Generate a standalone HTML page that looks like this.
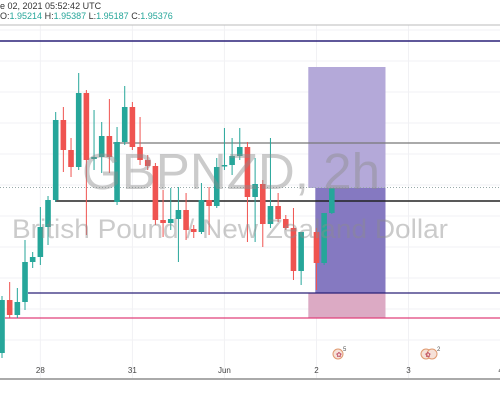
<!DOCTYPE html>
<html><head><meta charset="utf-8"><style>
body{margin:0;background:#fff;width:500px;height:400px;overflow:hidden;font-family:"Liberation Sans",sans-serif}
svg{display:block}
</style></head><body>
<svg id="chart" width="500" height="400">
<g id="grid"></g>
<text x="0" y="9" font-size="9" fill="#333">e 02, 2021 05:52:42 UTC</text>
<text x="0" y="19" font-size="9" fill="#333">O:<tspan fill="#26a69a">1.95214</tspan> H:<tspan fill="#26a69a">1.95387</tspan> L:<tspan fill="#26a69a">1.95187</tspan> C:<tspan fill="#26a69a">1.95376</tspan></text>
<line x1="0" y1="25" x2="500" y2="25" stroke="#bbb" stroke-width="1"/>
<g id="boxes"></g>
<g id="lines"></g>
<g id="candles"></g>
<text x="82" y="189" font-size="51" fill="rgba(140,140,140,0.45)" textLength="298" lengthAdjust="spacingAndGlyphs">GBPNZD, 2h</text>
<text x="12" y="238" font-size="27" fill="rgba(140,140,140,0.45)" textLength="436" lengthAdjust="spacingAndGlyphs">British Pound / New Zealand Dollar</text>
<g id="xaxis"></g>
<g><circle cx="338" cy="354" r="5" fill="#f6e1d8" stroke="#e09a70"/><text x="336" y="357" font-size="7" fill="#c0506a">✿</text><text x="343" y="351" font-size="6" fill="#555">5</text></g>
<g><circle cx="426" cy="354" r="5" fill="#f6e1d8" stroke="#e09a70"/><circle cx="432" cy="354" r="5" fill="#f6e1d8" stroke="#e09a70"/><text x="425" y="357" font-size="7" fill="#c0506a">✿</text><text x="437" y="351" font-size="6" fill="#555">2</text></g>
</svg>
<script>
const idx=[0,1,2,3,4,5,6,7,8,9,10,11,12,13,14,15,16,17,18,19,20,21,22,23,24,25,26,27,28,29,30,31,32,33,34,35,36,37,38,39,41,42,43];
const opens=[1.9373,1.9426,1.9411,1.9424,1.9464,1.9469,1.9499,1.9526,1.9606,1.9576,1.9559,1.9633,1.9567,1.9569,1.9590,1.9524,1.9584,1.9619,1.9579,1.9566,1.9560,1.9506,1.9503,1.9507,1.9516,1.9497,1.9494,1.9526,1.9520,1.9560,1.9561,1.9570,1.9579,1.9529,1.9542,1.9502,1.9520,1.9507,1.9498,1.9455,1.9494,1.9463,1.9513];
const highs=[1.9430,1.9444,1.9438,1.9486,1.9474,1.9519,1.9530,1.9614,1.9619,1.9588,1.9653,1.9636,1.9616,1.9604,1.9627,1.9599,1.9640,1.9624,1.9609,1.9571,1.9563,1.9536,1.9538,1.9539,1.9533,1.9501,1.9543,1.9539,1.9568,1.9598,1.9588,1.9598,1.9584,1.9568,1.9546,1.9588,1.9533,1.9511,1.9518,1.9494,1.9498,1.9513,1.9538];
const lows=[1.9368,1.9408,1.9408,1.9416,1.9458,1.9461,1.9481,1.9524,1.9554,1.9549,1.9556,1.9491,1.9556,1.9553,1.9553,1.9521,1.9581,1.9576,1.9561,1.9556,1.9501,1.9489,1.9496,1.9464,1.9486,1.9488,1.9492,1.9491,1.9518,1.9556,1.9551,1.9566,1.9484,1.9484,1.9479,1.9498,1.9504,1.9496,1.9446,1.9441,1.9436,1.9461,1.9512];
const closes=[1.9426,1.9411,1.9424,1.9464,1.9469,1.9499,1.9526,1.9606,1.9576,1.9559,1.9633,1.9566,1.9569,1.9590,1.9569,1.9584,1.9619,1.9579,1.9566,1.9560,1.9506,1.9503,1.9507,1.9516,1.9496,1.9494,1.9526,1.9520,1.9559,1.9561,1.9570,1.9579,1.9529,1.9542,1.9502,1.9520,1.9507,1.9498,1.9455,1.9494,1.9463,1.9513,1.9538];
const levels=[1.9685,1.9583,1.9525,1.9433,1.9408];
const levelStart=[0,113,55,28,5];
const levelColor=["#2a2178","#777","#222","#2a2178","#e0407a"];
const xTicks=["28","31","Jun","2","3","4"];
const xTickIdx=[5,17,29,41,53,65];
const boxIdx=[40,50];
const entryPrice=1.9538, targetPrice=1.9659, stopPrice=1.9408;
const NS="http://www.w3.org/2000/svg";
const X=i=>2+i*7.67;
const Y=p=>(1.9726-p)*10000;
function mk(par,tag,a){const e=document.createElementNS(NS,tag);for(const k in a)e.setAttribute(k,a[k]);document.getElementById(par).appendChild(e);return e;}
for(let y=30;y<370;y+=31){const g=mk('grid','line',{x1:0,x2:500,y1:y,y2:y,stroke:'#f1f1f4'});

}
xTicks.forEach((t,k)=>{const x=X(xTickIdx[k]);
const g=mk('grid','line',{x1:x,x2:x,y1:25,y2:378,stroke:'#f1f1f4'});


const tx=mk('xaxis','text',{x:x,y:373,'font-size':8,fill:'#444','text-anchor':'middle'});tx.textContent=t;

});
const ax=mk('xaxis','line',{x1:0,x2:500,y1:379,y2:379,stroke:'#aaa','stroke-width':2});


const bx0=X(boxIdx[0])-0.5,bx1=X(boxIdx[1]);
let r=mk('boxes','rect',{x:bx0,y:Y(targetPrice),width:bx1-bx0,height:Y(entryPrice)-Y(targetPrice),fill:'#b4a9d9'});


r=mk('boxes','rect',{x:bx0+7,y:Y(entryPrice),width:bx1-bx0-7,height:Y(levels[3])-Y(entryPrice),fill:'#8579c1'});


r=mk('boxes','rect',{x:bx0,y:Y(levels[3]),width:bx1-bx0,height:Y(stopPrice)-Y(levels[3]),fill:'#dcaac4'});


const dl=mk('lines','line',{x1:0,x2:500,y1:Y(entryPrice)-0.5,y2:Y(entryPrice)-0.5,stroke:'#9aa',"stroke-dasharray":"1,2"});


levels.forEach((p,k)=>{const l=mk('lines','line',{x1:levelStart[k],x2:500,y1:Y(p),y2:Y(p),stroke:levelColor[k],'stroke-width':(k==2||k==0)?1.6:1.2});

});
idx.forEach((i,k)=>{const x=X(i),up=closes[k]>=opens[k],c=up?'#26a69a':'#ef5350';
const w=mk('candles','line',{x1:x,x2:x,y1:Y(highs[k]),y2:Y(lows[k]),stroke:c,'stroke-width':1});


const t=Y(Math.max(opens[k],closes[k])),b=Y(Math.min(opens[k],closes[k]));
const bd=mk('candles','rect',{x:x-2.8,y:t,width:5.6,height:Math.max(1.5,b-t),fill:c});

});
</script>
</body></html>
